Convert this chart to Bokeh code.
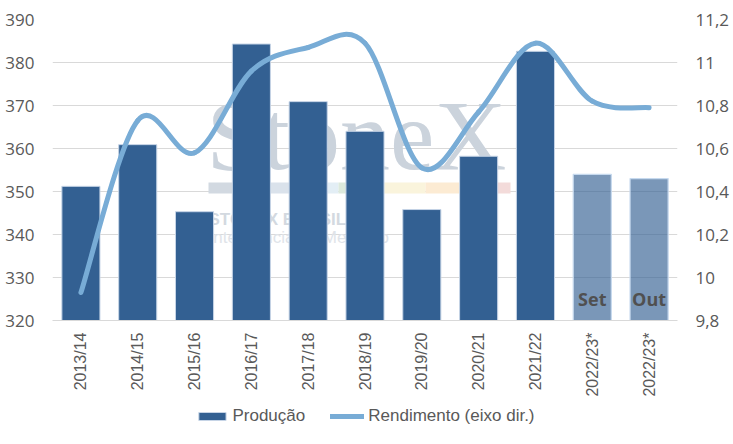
import numpy as np
from bokeh.plotting import figure
from bokeh.layouts import column
from bokeh.models import (ColumnDataSource, Range1d, LinearAxis, FixedTicker,
                          CustomJSTickFormatter, Legend, LegendItem, Label, BoxAnnotation)
from bokeh.core.properties import value
from bokeh.embed import file_html
from bokeh.resources import INLINE

# ---------------- data ----------------
seasons = ["2013/14", "2014/15", "2015/16", "2016/17", "2017/18", "2018/19",
           "2019/20", "2020/21", "2021/22", "2022/23*", "2022/23*"]
producao = [351.2, 360.9, 345.3, 384.3, 370.9, 364.0, 345.8, 358.2, 382.6, 354.0, 353.0]
rendimento = [9.93, 10.73, 10.58, 10.96, 11.07, 11.09, 10.51, 10.77, 11.09, 10.82, 10.79]
bar_notes = ["", "", "", "", "", "", "", "", "", "Set", "Out"]
projected = [False] * 9 + [True, True]

left_ticks = [320, 330, 340, 350, 360, 370, 380, 390]
right_ticks = [9.8, 10.0, 10.2, 10.4, 10.6, 10.8, 11.0, 11.2]
right_labels = ["9,8", "10", "10,2", "10,4", "10,6", "10,8", "11", "11,2"]

series_names = ["Produção", "Rendimento (eixo dir.)"]

# ---------------- styles ----------------
BAR = "#336092"
LINE = "#78acd6"
GRID = "#d9d9d9"
TXT = "#595959"
NUM_FONT = "Open Sans"
CAT_FONT = "Liberation Sans"

W = 733
H_MAIN, H_LEG = 400, 44
FL, FR, FT, FB = 52, 677, 19, 320   # frame edges (pixels)

n = len(seasons)
xs = list(range(n))

p = figure(width=W, height=H_MAIN, output_backend="svg", toolbar_location=None,
           x_range=Range1d(-0.5, n - 0.5),
           y_range=Range1d(left_ticks[0], left_ticks[-1]),
           min_border_left=FL, min_border_right=W - FR, min_border_top=FT,
           min_border_bottom=H_MAIN - FB)
p.outline_line_color = None
p.background_fill_color = "white"
p.border_fill_color = "white"
p.extra_y_ranges = {"right": Range1d(right_ticks[0], right_ticks[-1])}

# ---------------- watermark (decoration) ----------------
def px2x(px):
    return (px - FL) / ((FR - FL) / n) - 0.5

def py2y(py):
    return left_ticks[-1] - (py - FT) * (left_ticks[-1] - left_ticks[0]) / (FB - FT)

p.add_layout(Label(x=px2x(206), y=py2y(135), text="StoneX", text_font="Liberation Serif",
                   text_font_size="100px", text_color="#cbd3dc", text_baseline="alphabetic",
                   level="underlay"))
strip_bounds = [208, 268, 327, 338, 347, 383, 425, 460, 510]
strip_colors = ["#d2d9e1", "#dae2eb", "#e3eef5", "#dce9dc", "#f4f3e2", "#faf4dc", "#fcebd3", "#f3dbda"]
for i, c in enumerate(strip_colors):
    p.add_layout(BoxAnnotation(left=px2x(strip_bounds[i]), right=px2x(strip_bounds[i + 1]),
                               top=py2y(182), bottom=py2y(193), fill_color=c, fill_alpha=1.0,
                               line_color=None, level="underlay"))
p.add_layout(Label(x=px2x(208), y=py2y(218.5), text="STONEX BRASIL", text_font=CAT_FONT,
                   text_font_style="bold", text_font_size="17px", text_color="#d3d9e0",
                   text_baseline="alphabetic", level="underlay"))
p.add_layout(Label(x=px2x(208), y=py2y(236.5), text="Inteligência de Mercado", text_font=CAT_FONT,
                   text_font_size="17px", text_color="#e0e4e9",
                   text_baseline="alphabetic", level="underlay"))

# ---------------- bars ----------------
act = [i for i in xs if not projected[i]]
prj = [i for i in xs if projected[i]]
src_act = ColumnDataSource(dict(x=[xs[i] for i in act], top=[producao[i] for i in act]))
src_prj = ColumnDataSource(dict(x=[xs[i] for i in prj], top=[producao[i] for i in prj],
                                note=[bar_notes[i] for i in prj]))
bottom = left_ticks[0]
bar_style = dict(fill_color=BAR, line_color="#c6d4e6", line_width=1)
p.vbar(x="x", top="top", bottom=bottom, width=0.67, source=src_act, **bar_style)
p.vbar(x="x", top="top", bottom=bottom, width=0.67, source=src_prj,
       fill_color=BAR, fill_alpha=0.65, line_color="#c6d9ee", line_width=1.2)
p.text(x="x", y=bottom, text="note", source=src_prj, text_align="center",
       text_baseline="alphabetic", y_offset=-22, text_font=value(NUM_FONT),
       text_font_style="bold", text_font_size="18px", text_color="#505050")

# ---------------- smoothed line (bezier through data points) ----------------
X = np.array(xs, dtype=float)
Y = np.array(rendimento, dtype=float)
Xp = np.concatenate([[X[0]], X, [X[-1]]])
Yp = np.concatenate([[Y[0]], Y, [Y[-1]]])
cx0 = X[:-1] + (Xp[2:-1] - Xp[0:-3]) / 6.0
cy0 = Y[:-1] + (Yp[2:-1] - Yp[0:-3]) / 6.0
cx1 = X[1:] - (Xp[3:] - Xp[1:-2]) / 6.0
cy1 = Y[1:] - (Yp[3:] - Yp[1:-2]) / 6.0
line_style = dict(line_color=LINE, line_width=5, line_cap="round")
p.bezier(x0=X[:-1], y0=Y[:-1], x1=X[1:], y1=Y[1:], cx0=cx0, cy0=cy0, cx1=cx1, cy1=cy1,
         y_range_name="right", **line_style)

# ---------------- axes ----------------
p.xaxis.ticker = FixedTicker(ticks=xs)
p.xaxis.formatter = CustomJSTickFormatter(args=dict(labels=seasons),
                                          code="return labels[Math.round(tick)] || '';")
p.xaxis.major_label_orientation = np.pi / 2
p.xaxis.major_label_text_font = CAT_FONT
p.xaxis.major_label_text_font_size = "16px"
p.xaxis.major_label_text_color = TXT
p.xaxis.major_label_standoff = 12
p.xaxis.major_tick_line_color = None
p.xaxis.minor_tick_line_color = None
p.xaxis.axis_line_color = GRID
p.xaxis.major_tick_out = 0

p.yaxis.ticker = FixedTicker(ticks=left_ticks)
p.yaxis.major_label_text_font = NUM_FONT
p.yaxis.major_label_text_font_size = "17px"
p.yaxis.major_label_text_color = TXT
p.yaxis.major_label_standoff = 18
p.yaxis.major_tick_line_color = None
p.yaxis.minor_tick_line_color = None
p.yaxis.axis_line_color = None
p.yaxis.major_tick_out = 0

ry = LinearAxis(y_range_name="right", ticker=FixedTicker(ticks=right_ticks),
                formatter=CustomJSTickFormatter(args=dict(t=right_ticks, l=right_labels), code="""
                    let best = 0;
                    for (let i = 0; i < t.length; i++) {
                        if (Math.abs(t[i] - tick) < Math.abs(t[best] - tick)) best = i;
                    }
                    return l[best];"""))
ry.major_label_text_font = NUM_FONT
ry.major_label_text_font_size = "17px"
ry.major_label_text_color = TXT
ry.major_label_standoff = 18
ry.major_tick_line_color = None
ry.minor_tick_line_color = None
ry.axis_line_color = None
ry.major_tick_out = 0
p.add_layout(ry, "right")

p.xgrid.grid_line_color = None
p.ygrid.ticker = FixedTicker(ticks=left_ticks)
p.ygrid.grid_line_color = GRID
p.ygrid.grid_line_width = 1

# ---------------- legend (separate strip below the chart) ----------------
lg = figure(width=W, height=H_LEG, output_backend="svg", toolbar_location=None,
            x_range=Range1d(0, 1), y_range=Range1d(0, 1),
            min_border_left=5, min_border_right=0, min_border_top=0, min_border_bottom=12)
lg.axis.visible = False
lg.grid.visible = False
lg.outline_line_color = None
lg.background_fill_color = "white"
lg.border_fill_color = "white"
# legend-only renderers (hidden; they only supply the legend swatches)
lr_bar = lg.vbar(x=xs, top=producao, bottom=bottom, width=0.67, visible=False, **bar_style)
lr_line = lg.line(x=xs, y=rendimento, visible=False, **line_style)
legend = Legend(items=[LegendItem(label=series_names[0], renderers=[lr_bar]),
                       LegendItem(label=series_names[1], renderers=[lr_line])],
                orientation="horizontal", location="center",
                glyph_width=34, glyph_height=10, label_standoff=4, spacing=25,
                padding=0, margin=0, border_line_color=None, background_fill_alpha=0,
                label_text_font=CAT_FONT, label_text_font_size="17px",
                label_text_color=TXT)
lg.add_layout(legend, "center")

open("out.html", "w").write(file_html(column(p, lg), INLINE))
